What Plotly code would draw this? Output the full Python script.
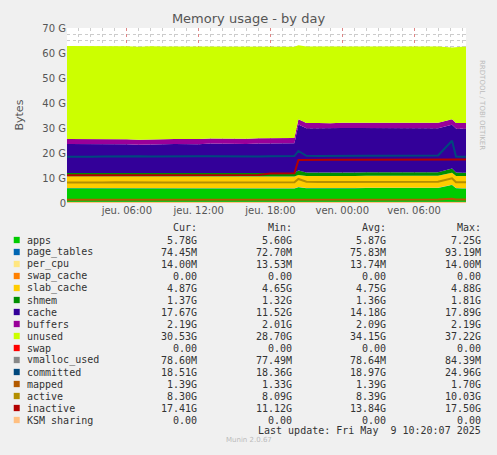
import plotly.graph_objects as go

# sample times (Thu 8 May 01:00 -> Fri 9 May 10:20)
times = ["2025-05-08 %02d:00" % h for h in range(1, 21)] + ["2025-05-08 20:20"] + \
        ["2025-05-08 %02d:00" % h for h in range(21, 24)] + \
        ["2025-05-09 %02d:00" % h for h in range(0, 9)] + ["2025-05-09 09:10", "2025-05-09 09:30", "2025-05-09 10:00", "2025-05-09 10:20"]

# stacked areas, values in GB
apps = [5.9, 5.9, 5.8, 5.8, 5.9, 5.8, 5.7, 5.8, 5.8, 5.9, 5.8, 5.8, 5.9, 5.8, 5.8, 5.8, 5.9, 5.8, 5.8, 5.8,
        6.3, 5.9, 5.9, 5.8, 5.9, 5.9, 6.0, 6.0, 5.9, 5.9, 6.0, 5.9, 6.0, 7.2, 5.9, 5.8, 5.8]
page_tables = [0.075] * 37
per_cpu = [0.014] * 37
swap_cache = [0.0] * 37
slab_cache = [4.7, 4.7, 4.75, 4.7, 4.7, 4.7, 4.65, 4.7, 4.7, 4.7, 4.7, 4.7, 4.75, 4.7, 4.7, 4.7, 4.7, 4.75, 4.7, 4.75,
              4.8, 4.8, 4.8, 4.8, 4.8, 4.8, 4.8, 4.8, 4.8, 4.8, 4.8, 4.8, 4.85, 4.85, 4.85, 4.87, 4.87]
shmem = [1.35] * 20 + [1.8] + [1.37] * 12 + [1.7, 1.37, 1.37, 1.37]
cache = [11.6, 11.6, 11.6, 11.6, 11.6, 11.6, 11.5, 11.6, 11.6, 11.6, 11.6, 11.6, 11.7, 11.7, 11.7, 11.7, 11.8, 11.9, 11.9, 11.9,
         18.4, 17.7, 17.7, 17.7, 17.8, 17.8, 17.7, 17.7, 17.7, 17.7, 17.7, 17.7, 17.6, 17.5, 17.6, 17.67, 17.67]
buffers = [2.0, 2.0, 2.0, 2.0, 2.0, 2.0, 2.0, 2.0, 2.0, 2.01, 2.02, 2.03, 2.04, 2.05, 2.05, 2.06, 2.06, 2.07, 2.08, 2.08,
           2.1, 2.1, 2.11, 2.11, 2.12, 2.12, 2.13, 2.14, 2.15, 2.15, 2.16, 2.17, 2.18, 2.19, 2.19, 2.19, 2.19]
unused = [37.2, 37.2, 37.2, 37.2, 37.2, 37.2, 37.2, 37.2, 37.1, 37.0, 37.0, 37.0, 36.8, 36.9, 36.9, 36.9, 36.7, 36.6, 36.6, 36.5,
          29.6, 30.6, 30.6, 30.6, 30.5, 30.5, 30.5, 30.5, 30.6, 30.6, 30.5, 30.6, 30.5, 28.7, 30.4, 30.53, 30.53]

# lines, values in GB
swap = [0.0] * 37
vmalloc_used = [0.078] * 37
committed = [18.5, 18.4, 18.5, 18.6, 18.7, 18.6, 18.7, 18.6, 18.7, 18.6, 18.6, 18.7, 18.7, 18.6, 18.6, 18.7, 18.6, 18.7, 18.7, 18.8,
             20.8, 18.9, 18.8, 18.9, 18.9, 18.9, 18.9, 18.9, 18.9, 18.8, 18.9, 18.9, 19.0, 24.9, 18.6, 18.51, 18.51]
mapped = [1.33] * 20 + [1.6] + [1.4] * 12 + [1.7, 1.4, 1.39, 1.39]
active = [8.2, 8.1, 8.2, 8.2, 8.3, 8.2, 8.2, 8.1, 8.2, 8.2, 8.2, 8.2, 8.3, 8.2, 8.2, 8.2, 8.3, 8.3, 8.3, 8.3,
          9.6, 8.5, 8.4, 8.4, 8.4, 8.4, 8.4, 8.5, 8.5, 8.4, 8.4, 8.4, 8.5, 9.9, 8.3, 8.3, 8.3]
inactive = [11.1] * 16 + [11.2, 11.8, 11.9, 11.9, 17.2] + [17.3] * 12 + [17.5, 17.4, 17.41, 17.41]
ksm_sharing = [0.0] * 37

area_names = ["apps", "page_tables", "per_cpu", "swap_cache", "slab_cache", "shmem", "cache", "buffers", "unused"]
area_data = [apps, page_tables, per_cpu, swap_cache, slab_cache, shmem, cache, buffers, unused]
area_colors = ["#00CC00", "#0066B3", "#FFE680", "#FF8000", "#FFCC00", "#008F00", "#330099", "#990099", "#CCFF00"]
line_names = ["swap", "vmalloc_used", "committed", "mapped", "active", "inactive", "KSM sharing"]
line_data = [swap, vmalloc_used, committed, mapped, active, inactive, ksm_sharing]
line_colors = ["#FF0000", "#888888", "#00487D", "#B35A00", "#B38F00", "#B30000", "#FFBF80"]

legend_names = area_names + line_names
legend_colors = area_colors + line_colors
cur = ["5.78G", "74.45M", "14.00M", "0.00", "4.87G", "1.37G", "17.67G", "2.19G", "30.53G", "0.00", "78.60M", "18.51G", "1.39G", "8.30G", "17.41G", "0.00"]
mins = ["5.60G", "72.70M", "13.53M", "0.00", "4.65G", "1.32G", "11.52G", "2.01G", "28.70G", "0.00", "77.49M", "18.36G", "1.33G", "8.09G", "11.12G", "0.00"]
avgs = ["5.87G", "75.83M", "13.74M", "0.00", "4.75G", "1.36G", "14.18G", "2.09G", "34.15G", "0.00", "78.64M", "18.97G", "1.39G", "8.39G", "13.84G", "0.00"]
maxs = ["7.25G", "93.19M", "14.00M", "0.00", "4.88G", "1.81G", "17.89G", "2.19G", "37.22G", "0.00", "84.39M", "24.96G", "1.70G", "10.03G", "17.50G", "0.00"]

x_ticks = ["2025-05-08 06:00", "2025-05-08 12:00", "2025-05-08 18:00", "2025-05-09 00:00", "2025-05-09 06:00"]
x_labels = ["jeu. 06:00", "jeu. 12:00", "jeu. 18:00", "ven. 00:00", "ven. 06:00"]

fig = go.Figure()
for name, vals, col in zip(area_names, area_data, area_colors):
    fig.add_trace(go.Scatter(x=times, y=vals, name=name, stackgroup="mem", mode="lines",
                             line=dict(width=0, color=col), fillcolor=col))
for name, vals, col in zip(line_names, line_data, line_colors):
    fig.add_trace(go.Scatter(x=times, y=vals, name=name, mode="lines", line=dict(width=2, color=col)))

# plot area in pixels: y from 28 (70G) to 203 (0); 175px tall
def py(p):
    return (203 - p) / 175.0

mono = dict(family="DejaVu Sans Mono", size=10, color="#333")
ann = []
for i, (n, c) in enumerate(zip(legend_names, legend_colors)):
    y = py(240 + 12 * i)
    fig.add_shape(type="rect", xref="paper", yref="paper", x0=-0.1335, x1=-0.1185,
                  y0=y - 0.018, y1=y + 0.018, fillcolor=c, line_width=0)
    ann.append(dict(text=n, x=-0.105, y=y, xanchor="left"))
    for xv, v in zip([199, 294, 388, 483], [cur[i], mins[i], avgs[i], maxs[i]]):
        ann.append(dict(text=v, x=(xv - 67) / 399.0, y=y, xanchor="right"))
for xv, h in zip([199, 294, 388, 483], ["Cur:", "Min:", "Avg:", "Max:"]):
    ann.append(dict(text=h, x=(xv - 67) / 399.0, y=py(227), xanchor="right"))
ann.append(dict(text="Last update: Fri May  9 10:20:07 2025", x=(483 - 67) / 399.0, y=py(430), xanchor="right"))
for a in ann:
    fig.add_annotation(xref="paper", yref="paper", showarrow=False, font=mono, yanchor="middle", **a)
fig.add_annotation(text="Munin 2.0.67", xref="paper", yref="paper", x=(249 - 67) / 399.0, y=py(446),
                   showarrow=False, font=dict(family="DejaVu Sans", size=7, color="#bbb"))
fig.add_annotation(text="RRDTOOL / TOBI OETIKER", xref="paper", yref="paper", x=(488 - 67) / 399.0, y=py(58),
                   textangle=90, showarrow=False, font=dict(family="DejaVu Sans", size=7, color="#bbb"))
fig.add_annotation(text="Bytes", xref="paper", yref="paper", x=(10 - 67) / 399.0, y=py(115),
                   textangle=-90, showarrow=False, font=dict(family="DejaVu Sans", size=11, color="#555"))

fig.update_layout(
    width=497, height=455, showlegend=False,
    margin=dict(l=67, r=31, t=28, b=252),
    paper_bgcolor="#F0F0F0", plot_bgcolor="#FFFFFF",
    title=dict(text="Memory usage - by day", x=0.5, y=1 - 18 / 455, xanchor="center", yanchor="middle",
               font=dict(family="DejaVu Sans", size=13, color="#555")),
    font=dict(family="DejaVu Sans", size=10, color="#555"),
)
fig.update_xaxes(range=["2025-05-08 01:00", "2025-05-09 10:20"], tickvals=x_ticks, ticktext=x_labels,
                 showgrid=True, gridcolor="rgba(255,0,0,0.35)", griddash="dot", gridwidth=1,
                 minor=dict(dtick=3600000, showgrid=True, gridcolor="#ccc", griddash="dot"),
                 ticks="", zeroline=False, showline=False)
fig.update_yaxes(range=[0, 70], tickvals=[0, 10, 20, 30, 40, 50, 60, 70],
                 ticktext=["0", "10 G", "20 G", "30 G", "40 G", "50 G", "60 G", "70 G"],
                 showgrid=True, gridcolor="rgba(255,0,0,0.35)", griddash="dot", gridwidth=1,
                 minor=dict(dtick=2.5, showgrid=True, gridcolor="#ccc", griddash="dot"),
                 zeroline=False, showline=False, ticks="")

fig.write_html("out.html", config={"displayModeBar": False},
               post_script="document.body.style.margin='0';document.body.style.background='#F0F0F0';")
